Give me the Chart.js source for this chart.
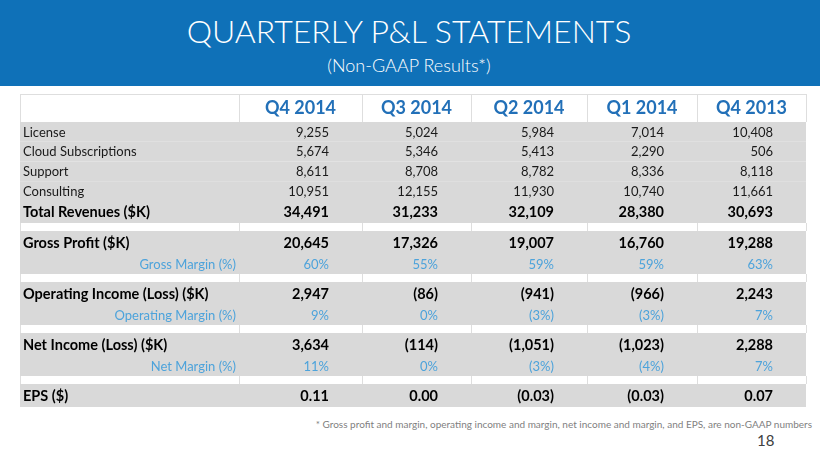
<!DOCTYPE html>
<html>
<head>
<meta charset="utf-8">
<script src="https://cdn.jsdelivr.net/npm/chart.js@4.4.1/dist/chart.umd.min.js"></script>
<style>
html, body { margin: 0; padding: 0; background: #fff; }
body { width: 820px; height: 461px; position: relative; overflow: hidden; font-family: Lato, "Open Sans", sans-serif; }
#banner { position: absolute; left: 0; top: 0; width: 820px; height: 86px; background: #0f71b8; color: #fff; text-align: center; }
#title { position: absolute; left: 0; width: 818px; top: 11px; font-size: 32px; font-weight: 300; line-height: 40px; }
#subtitle { position: absolute; left: 0; width: 818px; top: 54px; font-size: 18px; font-weight: 300; line-height: 22px; }
#wrap { position: absolute; left: 0; top: 86px; width: 820px; height: 330px; }
#note { position: absolute; right: 8px; top: 418px; font-size: 10px; line-height: 12px; color: #7f7f7f; }
#page { position: absolute; left: 757px; top: 431px; font-size: 15px; line-height: 18px; color: #404040; }
</style>
</head>
<body>
<div id="banner">
  <div id="title">QUARTERLY P&amp;L STATEMENTS</div>
  <div id="subtitle">(Non-GAAP Results*)</div>
</div>
<div id="wrap"><canvas id="plChart"></canvas></div>
<div id="note">* Gross profit and margin, operating income and margin, net income and margin, and EPS, are non-GAAP numbers</div>
<div id="page">18</div>

<script>
// table data, one array per line of the statement
var quarters = ['Q4 2014', 'Q3 2014', 'Q2 2014', 'Q1 2014', 'Q4 2013'];
var license = [9255, 5024, 5984, 7014, 10408];
var cloud = [5674, 5346, 5413, 2290, 506];
var support = [8611, 8708, 8782, 8336, 8118];
var consulting = [10951, 12155, 11930, 10740, 11661];
var totalRevenues = [34491, 31233, 32109, 28380, 30693];
var grossProfit = [20645, 17326, 19007, 16760, 19288];
var grossMargin = [60, 55, 59, 59, 63];
var operatingIncome = [2947, -86, -941, -966, 2243];
var operatingMargin = [9, 0, -3, -3, 7];
var netIncome = [3634, -114, -1051, -1023, 2288];
var netMargin = [11, 0, -3, -4, 7];
var eps = [0.11, 0.00, -0.03, -0.03, 0.07];

function fmtK(v) {
    var s = Math.abs(v).toLocaleString('en-US');
    return v < 0 ? '(' + s + ')' : s;
}
function fmtPct(v) {
    return v < 0 ? '(' + Math.abs(v) + '%)' : v + '%';
}
function fmtEps(v) {
    return v < 0 ? '(' + Math.abs(v).toFixed(2) + ')' : v.toFixed(2);
}

// layout (scale units), kept apart from the data
var colEdges = [20, 239, 362, 471, 587, 697, 806];
var tableTop = 8;
var rowH = { header: 28, item: 19.75, total: 22, gap: 8, bold: 23, margin: 20 };
var colors = {
    band: '#d9d9d9', line: '#dedede', head: '#2270b8',
    text: '#1a1a1a', margin: '#4da3db'
};

var rows = [
    { kind: 'header' },
    { kind: 'item', label: 'License', vals: license, fmt: fmtK },
    { kind: 'item', label: 'Cloud Subscriptions', vals: cloud, fmt: fmtK },
    { kind: 'item', label: 'Support', vals: support, fmt: fmtK },
    { kind: 'item', label: 'Consulting', vals: consulting, fmt: fmtK },
    { kind: 'total', label: 'Total Revenues ($K)', vals: totalRevenues, fmt: fmtK },
    { kind: 'gap' },
    { kind: 'bold', label: 'Gross Profit ($K)', vals: grossProfit, fmt: fmtK },
    { kind: 'margin', label: 'Gross Margin (%)', vals: grossMargin, fmt: fmtPct },
    { kind: 'gap' },
    { kind: 'bold', label: 'Operating Income (Loss) ($K)', vals: operatingIncome, fmt: fmtK },
    { kind: 'margin', label: 'Operating Margin (%)', vals: operatingMargin, fmt: fmtPct },
    { kind: 'gap' },
    { kind: 'bold', label: 'Net Income (Loss) ($K)', vals: netIncome, fmt: fmtK },
    { kind: 'margin', label: 'Net Margin (%)', vals: netMargin, fmt: fmtPct },
    { kind: 'gap' },
    { kind: 'bold', label: 'EPS ($)', vals: eps, fmt: fmtEps }
];

var tablePlugin = {
    id: 'plTable',
    afterDraw: function(chart) {
        var ctx = chart.ctx;
        var xs = chart.scales.x, ys = chart.scales.y;
        var X = function(v) { return xs.getPixelForValue(v); };
        var Y = function(v) { return ys.getPixelForValue(v); };
        var left = X(colEdges[0]), right = X(colEdges[colEdges.length - 1]);
        var top = tableTop;
        ctx.save();
        ctx.textBaseline = 'middle';
        rows.forEach(function(r) {
            var h = rowH[r.kind];
            var y0 = Y(top), y1 = Y(top + h);
            var yc = (y0 + y1) / 2 + 0.5;
            top += h;

            if (r.kind == 'header' || r.kind == 'gap') {
                ctx.fillStyle = '#fff';
                ctx.fillRect(left, y0, right - left, y1 - y0);
                ctx.strokeStyle = colors.line;
                ctx.lineWidth = 1;
                ctx.beginPath();
                for (var i = 0; i < colEdges.length; i++) {
                    var x = Math.round(X(colEdges[i])) + 0.5;
                    ctx.moveTo(x, y0);
                    ctx.lineTo(x, y1);
                }
                if (r.kind == 'header') {
                    ctx.moveTo(left, Math.round(y0) + 0.5);
                    ctx.lineTo(right, Math.round(y0) + 0.5);
                }
                ctx.stroke();
            } else {
                ctx.fillStyle = colors.band;
                ctx.fillRect(left, y0, right - left, y1 - y0);
            }

            if (r.kind == 'header') {
                ctx.font = 'bold 18px Lato';
                ctx.fillStyle = colors.head;
                ctx.textAlign = 'center';
                quarters.forEach(function(q, i) {
                    ctx.fillText(q, (X(colEdges[i + 1]) + X(colEdges[i + 2])) / 2, yc);
                });
                return;
            }
            if (r.kind == 'gap') return;

            var font, col;
            if (r.kind == 'item') { font = '13px Lato'; col = colors.text; }
            else if (r.kind == 'margin') { font = '13px Lato'; col = colors.margin; }
            else { font = 'bold 14.5px Lato'; col = '#000'; }
            ctx.font = font;
            ctx.fillStyle = col;
            if (r.kind == 'margin') {
                ctx.textAlign = 'right';
                ctx.fillText(r.label, X(colEdges[1]) - 3, yc);
            } else {
                ctx.textAlign = 'left';
                ctx.fillText(r.label, left + 3, yc);
            }
            ctx.textAlign = 'right';
            r.vals.forEach(function(v, i) {
                ctx.fillText(r.fmt(v), X(colEdges[i + 2]) - 33, yc);
            });
        });
        ctx.restore();
    }
};

var myChart = new Chart(document.getElementById('plChart'), {
    type: 'scatter',
    data: { datasets: [{ data: [] }] },
    options: {
        responsive: true,
        maintainAspectRatio: false,
        animation: false,
        layout: { padding: 0 },
        plugins: { legend: { display: false }, tooltip: { enabled: false } },
        scales: {
            x: { type: 'linear', display: false, min: 0, max: 820 },
            y: { type: 'linear', display: false, min: 0, max: 330, reverse: true }
        }
    },
    plugins: [tablePlugin]
});
</script>
</body>
</html>
